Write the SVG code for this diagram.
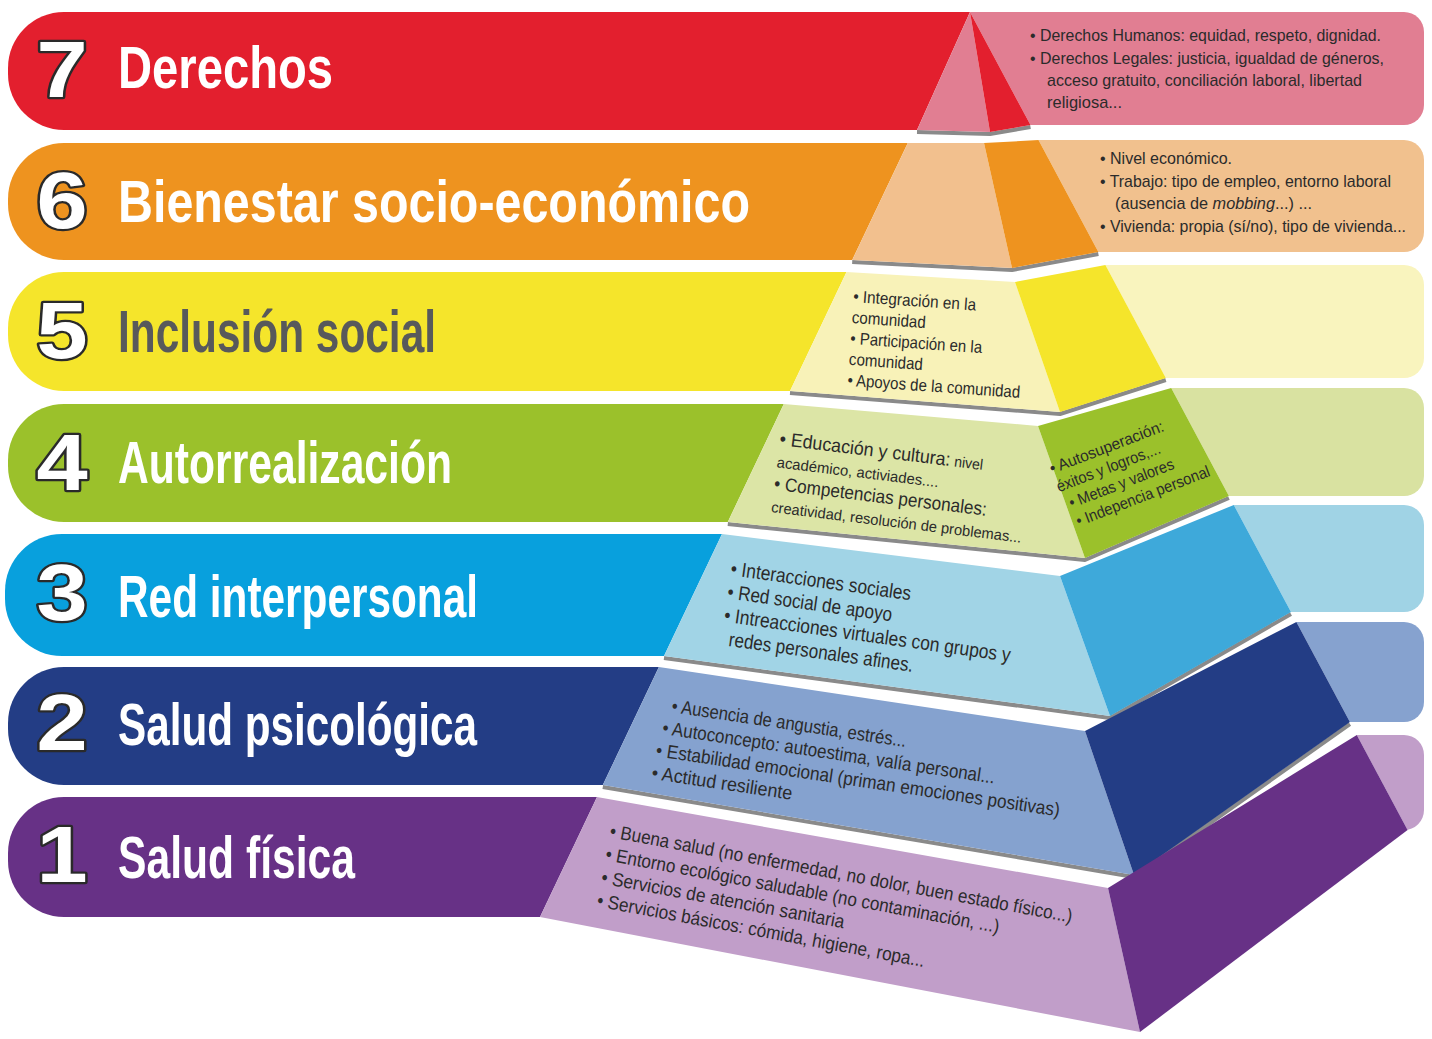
<svg xmlns="http://www.w3.org/2000/svg" width="1432" height="1039" viewBox="0 0 1432 1039">
<style>
  text { font-family: 'Liberation Sans', Arial, sans-serif; }
  .title { font-weight: bold; font-size: 59px; fill: #ffffff; }
  .num { font-weight: bold; font-size: 80px; fill: #ffffff; stroke: #2a2a2a; stroke-width: 4.5; paint-order: stroke; stroke-linejoin: round; text-anchor: middle; }
  .d { fill: #2b2b2b; }
  .tab { font-size: 17px; }
  .shadow { fill: none; stroke: #8a8a8a; stroke-width: 4; stroke-linejoin: round; }
</style>
<rect width="1432" height="1039" fill="#ffffff"/>

<!-- Level 7 -->
<g id="level-7">
  <path d="M64,12 L970,12 L917,130 L64,130 A56,56 0 0 1 8,74 L8,68 A56,56 0 0 1 64,12 Z" fill="#E31F2E"/>
  <path d="M970,12 L1404,12 A20,20 0 0 1 1424,32 L1424,105 A20,20 0 0 1 1404,125 L1030.5,125 Z" fill="#E17E92"/>
  <polyline class="shadow" transform="translate(0,2)" points="917,130 990,132 1030.5,125"/>
  <polygon points="970,12 990,132 917,130" fill="#E17E92"/>
  <polygon points="970,12 1030.5,125 990,132" fill="#E31F2E"/>
  <text class="num" transform="translate(62,97) scale(1.15,1)">7</text>
  <text class="title" x="118" y="88" textLength="215" lengthAdjust="spacingAndGlyphs">Derechos</text>
  <g class="d tab">
    <text x="1030" y="41" textLength="351" lengthAdjust="spacingAndGlyphs">• Derechos Humanos: equidad, respeto, dignidad.</text>
    <text x="1030" y="64" textLength="354" lengthAdjust="spacingAndGlyphs">• Derechos Legales: justicia, igualdad de géneros,</text>
    <text x="1047" y="86" textLength="315" lengthAdjust="spacingAndGlyphs">acceso gratuito, conciliación laboral, libertad</text>
    <text x="1047" y="108" textLength="75" lengthAdjust="spacingAndGlyphs">religiosa...</text>
  </g>
</g>

<!-- Level 6 -->
<g id="level-6">
  <path d="M64,143 L907.8,143 L852.2,260 L64,260 A56,56 0 0 1 8,204 L8,199 A56,56 0 0 1 64,143 Z" fill="#EE931F"/>
  <path d="M1038.5,140 L1404,140 A20,20 0 0 1 1424,160 L1424,232 A20,20 0 0 1 1404,252 L1098.4,252 Z" fill="#F1C18E"/>
  <polyline class="shadow" transform="translate(0,2)" points="852.2,260 1012,268 1098.4,252"/>
  <polygon points="907.8,143 984,143 1012,268 852.2,260" fill="#F2C08E"/>
  <polygon points="984,143 1038.5,140 1098.4,252 1012,268" fill="#EE931F"/>
  <text class="num" transform="translate(62,228) scale(1.15,1)">6</text>
  <text class="title" x="118" y="222" textLength="632" lengthAdjust="spacingAndGlyphs">Bienestar socio-económico</text>
  <g class="d tab">
    <text x="1100" y="164" textLength="132" lengthAdjust="spacingAndGlyphs">• Nivel económico.</text>
    <text x="1100" y="187" textLength="291" lengthAdjust="spacingAndGlyphs">• Trabajo: tipo de empleo, entorno laboral</text>
    <text x="1115" y="209" textLength="197" lengthAdjust="spacingAndGlyphs">(ausencia de <tspan font-style="italic">mobbing</tspan>...) ...</text>
    <text x="1100" y="232" textLength="306" lengthAdjust="spacingAndGlyphs">• Vivienda: propia (sí/no), tipo de vivienda...</text>
  </g>
</g>

<!-- Level 5 -->
<g id="level-5">
  <path d="M64,272 L846.5,272 L790,391 L64,391 A56,56 0 0 1 8,335 L8,328 A56,56 0 0 1 64,272 Z" fill="#F5E52B"/>
  <path d="M1105.4,265 L1404,265 A20,20 0 0 1 1424,285 L1424,358 A20,20 0 0 1 1404,378 L1165.8,378 Z" fill="#F9F4BE"/>
  <polyline class="shadow" transform="translate(0,2)" points="790,391 1060,412 1165.8,378"/>
  <polygon points="846.5,272 1015,282 1060,412 790,391" fill="#F8F2B8"/>
  <polygon points="1015,282 1105.4,265 1165.8,378 1060,412" fill="#F5E52B"/>
  <text class="num" transform="translate(62,358) scale(1.15,1)">5</text>
  <text class="title" x="118" y="352" textLength="318" lengthAdjust="spacingAndGlyphs" style="fill:#58595B">Inclusión social</text>
  <g class="d" font-size="17" transform="translate(853,302) rotate(4)">
    <text x="0" y="0" textLength="123" lengthAdjust="spacingAndGlyphs">• Integración en la</text>
    <text x="0" y="21" textLength="74" lengthAdjust="spacingAndGlyphs">comunidad</text>
    <text x="0" y="42" textLength="132" lengthAdjust="spacingAndGlyphs">• Participación en la</text>
    <text x="0" y="63" textLength="74" lengthAdjust="spacingAndGlyphs">comunidad</text>
    <text x="0" y="84" textLength="173" lengthAdjust="spacingAndGlyphs">• Apoyos de la comunidad</text>
  </g>
</g>

<!-- Level 4 -->
<g id="level-4">
  <path d="M64,404 L783.8,404 L727.8,522 L64,522 A56,56 0 0 1 8,466 L8,460 A56,56 0 0 1 64,404 Z" fill="#9BC12B"/>
  <path d="M1171.2,388 L1404,388 A20,20 0 0 1 1424,408 L1424,476 A20,20 0 0 1 1404,496 L1228.9,496 Z" fill="#D9E2A1"/>
  <polyline class="shadow" transform="translate(0,2)" points="727.8,522 1085,558 1228.9,496"/>
  <polygon points="783.8,404 1038,426 1085,558 727.8,522" fill="#DCE5A6"/>
  <polygon points="1038,426 1171.2,388 1228.9,496 1085,558" fill="#9BC12B"/>
  <text class="num" transform="translate(62,490) scale(1.15,1)">4</text>
  <text class="title" x="118" y="483" textLength="334" lengthAdjust="spacingAndGlyphs">Autorrealización</text>
  <g class="d" transform="translate(779,445) rotate(7)">
    <text x="0" y="0" textLength="205" lengthAdjust="spacingAndGlyphs"><tspan font-size="19">• Educación y cultura:</tspan><tspan font-size="15"> nivel</tspan></text>
    <text x="0" y="22.5" font-size="15" textLength="163" lengthAdjust="spacingAndGlyphs">académico, activiades....</text>
    <text x="0" y="45" font-size="19" textLength="214" lengthAdjust="spacingAndGlyphs">• Competencias personales:</text>
    <text x="0" y="67.5" font-size="15" textLength="252" lengthAdjust="spacingAndGlyphs">creatividad, resolución de problemas...</text>
  </g>
  <g class="d" font-size="16" transform="translate(1052,474) rotate(-21)">
    <text x="0" y="0" textLength="121" lengthAdjust="spacingAndGlyphs">• Autosuperación:</text>
    <text x="0" y="19.5" textLength="110" lengthAdjust="spacingAndGlyphs">éxitos y logros,...</text>
    <text x="6" y="39" textLength="111" lengthAdjust="spacingAndGlyphs">• Metas y valores</text>
    <text x="6" y="58.5" textLength="142" lengthAdjust="spacingAndGlyphs">• Indepencia personal</text>
  </g>
</g>

<!-- Level 3 -->
<g id="level-3">
  <path d="M62,534 L722,534 L664,656 L62,656 A57,57 0 0 1 5,599 L5,591 A57,57 0 0 1 62,534 Z" fill="#08A0DD"/>
  <path d="M1233.8,505 L1404,505 A20,20 0 0 1 1424,525 L1424,592 A20,20 0 0 1 1404,612 L1291,612 Z" fill="#A0D3E5"/>
  <polyline class="shadow" transform="translate(0,2)" points="664,656 1110,716 1291,612"/>
  <polygon points="722,534 1060,576 1110,716 664,656" fill="#A1D4E6"/>
  <polygon points="1060,576 1233.8,505 1291,612 1110,716" fill="#3EA9DA"/>
  <text class="num" transform="translate(62,620) scale(1.15,1)">3</text>
  <text class="title" x="118" y="617" textLength="360" lengthAdjust="spacingAndGlyphs">Red interpersonal</text>
  <g class="d" font-size="20" transform="translate(730,575) rotate(8)">
    <text x="0" y="0" textLength="182" lengthAdjust="spacingAndGlyphs">• Interacciones sociales</text>
    <text x="0" y="23.5" textLength="166" lengthAdjust="spacingAndGlyphs">• Red social de apoyo</text>
    <text x="0" y="47" textLength="289" lengthAdjust="spacingAndGlyphs">• Intreacciones virtuales con grupos y</text>
    <text x="8" y="70.5" textLength="186" lengthAdjust="spacingAndGlyphs">redes personales afines.</text>
  </g>
</g>

<!-- Level 2 -->
<g id="level-2">
  <path d="M64,667 L658.9,667 L602.8,785 L64,785 A56,56 0 0 1 8,729 L8,723 A56,56 0 0 1 64,667 Z" fill="#233D85"/>
  <path d="M1296.4,622 L1404,622 A20,20 0 0 1 1424,642 L1424,702 A20,20 0 0 1 1404,722 L1349.9,722 Z" fill="#86A2CF"/>
  <polyline class="shadow" transform="translate(0,2)" points="602.8,785 1134,875 1349.9,722"/>
  <polygon points="658.9,667 1085,731 1134,875 602.8,785" fill="#85A2CF"/>
  <polygon points="1085,731 1296.4,622 1349.9,722 1134,875" fill="#233D85"/>
  <text class="num" transform="translate(62,750) scale(1.15,1)">2</text>
  <text class="title" x="118" y="745" textLength="359" lengthAdjust="spacingAndGlyphs">Salud psicológica</text>
  <g class="d" font-size="19" transform="translate(671,712) rotate(8.5)">
    <text x="0" y="0" textLength="237" lengthAdjust="spacingAndGlyphs">• Ausencia de angustia, estrés...</text>
    <text x="-6" y="23" textLength="336" lengthAdjust="spacingAndGlyphs">• Autoconcepto: autoestima, valía personal...</text>
    <text x="-9" y="46" textLength="408" lengthAdjust="spacingAndGlyphs">• Estabilidad emocional (priman emociones positivas)</text>
    <text x="-10" y="69" textLength="142" lengthAdjust="spacingAndGlyphs">• Actitud resiliente</text>
  </g>
</g>

<!-- Level 1 -->
<g id="level-1">
  <path d="M64,797 L597,797 L540,917 L64,917 A56,56 0 0 1 8,861 L8,853 A56,56 0 0 1 64,797 Z" fill="#673186"/>
  <path d="M1356.8,735 L1404,735 A20,20 0 0 1 1424,755 L1424,810 A20,20 0 0 1 1404,830 L1407.6,830 Z" fill="#C19EC9"/>
  <polygon points="597,797 1108,888 1140,1032 540,917" fill="#C19EC9"/>
  <polygon points="1108,888 1356.8,735 1407.6,830 1140,1032" fill="#673186"/>
  <text class="num" transform="translate(62,882) scale(1.15,1)">1</text>
  <text class="title" x="118" y="878" textLength="237" lengthAdjust="spacingAndGlyphs">Salud física</text>
  <g class="d" font-size="19" transform="translate(609,837) rotate(10.5)">
    <text x="0" y="0" textLength="470" lengthAdjust="spacingAndGlyphs">• Buena salud (no enfermedad, no dolor, buen estado físico...)</text>
    <text x="0" y="23.5" textLength="400" lengthAdjust="spacingAndGlyphs">• Entorno ecológico saludable (no contaminación, ...)</text>
    <text x="0" y="47" textLength="247" lengthAdjust="spacingAndGlyphs">• Servicios de atención sanitaria</text>
    <text x="0" y="70.5" textLength="333" lengthAdjust="spacingAndGlyphs">• Servicios básicos: cómida, higiene, ropa...</text>
  </g>
</g>

<g id="connectors"></g>
</svg>
